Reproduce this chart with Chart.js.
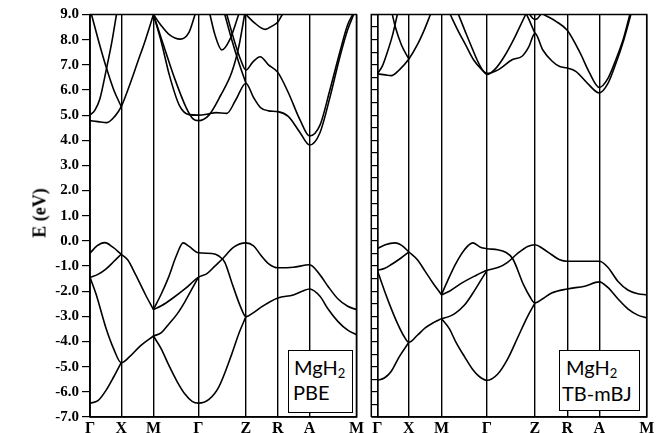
<!DOCTYPE html>
<html>
<head>
<meta charset="utf-8">
<script src="https://cdn.jsdelivr.net/npm/chart.js@4.4.1/dist/chart.umd.min.js"></script>
<style>
  html, body { margin: 0; padding: 0; background: #fff; }
  #wrap { position: relative; width: 666px; height: 433px; overflow: hidden; }
  canvas { position: absolute; top: 0; }
  #cPBE { left: 0; }
  #cMBJ { left: 366px; }
  .ylab { position: absolute; left: 40px; top: 213px; transform: translate(-50%, -50%) rotate(-90deg);
          font: bold 18px "Liberation Serif"; white-space: nowrap; }
  .tag { position: absolute; background: #fff; border: 1.5px solid #000; box-sizing: border-box;
         font-family: Lato; font-size: 20px; line-height: 20px; }
  .tag span { position: absolute; white-space: nowrap; }
  .tag sub { font-size: 13px; position: relative; top: 3px; vertical-align: baseline; }
</style>
</head>
<body>
<div id="wrap">
  <canvas id="cPBE" width="366" height="433"></canvas>
  <canvas id="cMBJ" width="300" height="433"></canvas>
  <div class="ylab">E (eV)</div>
  <div class="tag" style="left:288px; top:350px; width:65px; height:63px;">
    <span style="left:5px; top:6px;">MgH<sub>2</sub></span>
    <span style="left:4px; top:31px;">PBE</span>
  </div>
  <div class="tag" style="left:559px; top:350px; width:81px; height:61px;">
    <span style="left:6px; top:6px;">MgH<sub>2</sub></span>
    <span style="left:2px; top:32px;">TB-mBJ</span>
  </div>
</div>
<script>
// k-path: positions of the high-symmetry points and their labels
const kPath = [0, 31.5, 64, 109.3, 157.3, 189.5, 221.5, 268.8];
const kLabels = ['Γ', 'X', 'M', 'Γ', 'Z', 'R', 'A', 'M'];
const eMin = -7, eMax = 9;

// PBE bands, [k, E(eV)]
const pbeC1 = [[0,4.78],[8,4.74],[17,4.70],[25,4.95],[31.5,5.34],[40,6.2],[48,7.1],[56,8.0],[64,9.0]];
const pbeC2 = [[0,5.0],[5,5.2],[10,5.65],[16.7,6.86],[22,7.9],[26.7,9.0]];
const pbeC3 = [[1.5,9.0],[9,7.9],[16.7,6.86],[24,6.0],[31.5,5.34]];
const pbeC4 = [[64,9.0],[72,7.9],[80,6.6],[90,5.4],[100,5.02],[109.3,5.0],[120,5.05],[127,5.1],[138,5.07],[147,5.6],[157.3,6.27],[165,5.7],[172,5.3],[180,5.17],[189.5,5.14],[200,4.95],[212,4.3],[221.5,3.81],[232,4.3],[242,5.7],[252,7.3],[260,8.4],[266,9.0]];
const pbeC5 = [[64,9.0],[74,7.8],[85,6.5],[97,5.3],[104,4.85],[109.3,4.78],[120,5.0],[132,5.8],[143,6.7],[150,7.7],[156,9.0]];
const pbeC6 = [[64,9.0],[72,8.55],[80,8.2],[91,8.02],[100,8.3],[106,9.0]];
const pbeC7 = [[121,9.0],[126,8.2],[133,7.59],[141,8.0],[150,9.0]];
const pbeC8 = [[138,9.0],[146,7.9],[152,7.2],[157.3,6.79],[164,7.1],[171.7,7.32],[180,7.0],[189.5,6.7],[200,5.9],[212,4.8],[221.5,4.17],[232,4.6],[242,6.0],[252,7.5],[260,8.6],[265,9.0]];
const pbeC9 = [[136,9.0],[143,8.0],[150,7.1],[157.3,6.27]];
const pbeC10 = [[157.3,9.0],[165,8.7],[176.7,8.41],[184,8.55],[189.5,8.7],[194,9.0]];

const pbeV1 = [[0,-0.49],[7,-0.2],[15,-0.07],[23,-0.25],[31.5,-0.53],[38,-0.75],[46,-1.34],[56,-2.14],[64,-2.73]];
const pbeV2 = [[0,-1.45],[8,-1.33],[16,-1.12],[24,-0.82],[31.5,-0.53]];
const pbeV3 = [[0,-1.45],[6,-2.1],[16,-3.45],[24,-4.3],[31.5,-4.84],[40,-4.6],[50,-4.2],[64,-3.78]];
const pbeV4 = [[0,-6.45],[8,-6.35],[16,-5.95],[24,-5.4],[31.5,-4.84]];
const pbeV5 = [[64,-2.73],[72,-2.1],[79,-1.47],[87,-0.6],[94,-0.08],[100,-0.22],[109.3,-0.47],[123,-0.5],[130,-0.6],[136,-0.85],[143,-1.65],[151.7,-2.6],[157.3,-3.01],[165,-2.85],[172,-2.65],[189.5,-2.27],[205,-2.15],[214,-2.0],[221.5,-1.91],[232,-2.2],[240,-2.7],[250,-3.2],[260,-3.55],[268.8,-3.73]];
const pbeV6 = [[64,-2.73],[72,-2.58],[82,-2.32],[96,-1.9],[109.3,-1.45],[118,-1.3],[126,-1.0],[134,-0.7],[145,-0.25],[157.3,-0.08],[165,-0.2],[172,-0.55],[180,-0.9],[189.5,-1.07],[205,-1.05],[221.5,-0.95],[232,-1.35],[240,-1.8],[250,-2.3],[260,-2.6],[268.8,-2.73]];
const pbeV7 = [[64,-3.78],[72,-3.65],[79,-3.33],[88,-2.9],[96,-2.4],[103,-1.9],[109.3,-1.45]];
const pbeV8 = [[64,-3.78],[72,-4.3],[79,-4.9],[88,-5.6],[96,-6.1],[103,-6.38],[109.3,-6.45],[120,-6.3],[130,-5.8],[143,-4.5],[150,-3.7],[157.3,-3.01]];

// TB-mBJ bands, [k, E(eV)]
const mbjC1 = [[0,6.64],[8,6.6],[14,6.57],[22,6.8],[31.5,7.23],[40,7.8],[47,8.4],[53,9.0]];
const mbjC2 = [[0,6.64],[5,6.95],[10,7.5],[15,8.15],[20,9.0]];
const mbjC3 = [[15,9.0],[18,8.5],[24,7.8],[31.5,7.23]];
const mbjC4 = [[72.8,9.0],[80,8.4],[88,7.8],[96,7.2],[104.5,6.8],[109.5,6.66],[121,6.81],[134.5,7.2],[144.5,7.34],[151,7.7],[157.3,8.25],[165,7.6],[174.5,7.14],[182,6.93],[189.5,6.87],[198,6.74],[211,6.21],[221.5,5.88],[230,6.25],[238,7.05],[246,8.0],[253,9.0]];
const mbjC5 = [[81,9.0],[88,8.3],[94.5,7.67],[102,7.0],[109.5,6.62],[118,6.85],[127,7.35],[136,8.0],[142,8.5],[148,9.0]];
const mbjC6 = [[149,9.0],[153,8.65],[157.3,8.25]];
const mbjC7 = [[152,9.0],[155,8.85],[157.3,8.8],[160,8.85],[163,9.0]];
const mbjC8 = [[166,9.0],[179,8.71],[189.5,8.37],[202.5,7.46],[211,6.74],[221.5,6.1],[230,6.45],[238,7.2],[246,8.1],[252,9.0]];

const mbjV1 = [[0,-0.31],[8,-0.15],[17.8,-0.08],[25,-0.2],[31.5,-0.44],[40,-0.75],[47.8,-1.21],[56,-1.7],[64,-2.14]];
const mbjV2 = [[0,-1.17],[7,-1.1],[14,-0.94],[23,-0.7],[31.5,-0.44]];
const mbjV3 = [[0,-1.17],[7.3,-2.0],[14,-2.7],[20.7,-3.33],[26,-3.75],[31.5,-4.03],[40,-3.75],[47.8,-3.46],[56,-3.25],[64,-3.09]];
const mbjV4 = [[0,-5.54],[7,-5.45],[14,-5.18],[22,-4.6],[31.5,-4.03]];
const mbjV5 = [[64,-2.14],[70,-1.6],[77.8,-0.94],[87,-0.35],[95.2,-0.08],[102.8,-0.25],[109.5,-0.31],[120,-0.35],[128,-0.45],[135,-0.7],[146,-1.75],[152,-2.2],[157.3,-2.47],[165,-2.3],[174,-2.07],[189.5,-1.91],[207,-1.8],[221.5,-1.63],[230,-1.85],[240,-2.3],[250,-2.7],[260,-2.95],[268.8,-3.06]];
const mbjV6 = [[64,-2.14],[72,-2.0],[84.5,-1.67],[97,-1.4],[109.5,-1.17],[121,-1.05],[130,-0.85],[140,-0.5],[150,-0.22],[157.3,-0.15],[165,-0.3],[174,-0.55],[182,-0.75],[189.5,-0.81],[205,-0.81],[221.5,-0.81],[230,-1.05],[240,-1.6],[250,-1.95],[260,-2.1],[268.8,-2.14]];
const mbjV7 = [[64,-3.09],[72,-3.0],[78,-2.87],[87,-2.55],[95,-2.1],[102,-1.65],[109.5,-1.17]];
const mbjV8 = [[64,-3.09],[72,-3.5],[78,-3.99],[87,-4.6],[95,-5.1],[102,-5.4],[109.5,-5.54],[120,-5.3],[130,-4.7],[140,-3.85],[150,-3.0],[157.3,-2.47]];

const pbeBands = [pbeC1, pbeC2, pbeC3, pbeC4, pbeC5, pbeC6, pbeC7, pbeC8, pbeC9, pbeC10,
                  pbeV1, pbeV2, pbeV3, pbeV4, pbeV5, pbeV6, pbeV7, pbeV8];
const mbjBands = [mbjC1, mbjC2, mbjC3, mbjC4, mbjC5, mbjC6, mbjC7, mbjC8,
                  mbjV1, mbjV2, mbjV3, mbjV4, mbjV5, mbjV6, mbjV7, mbjV8];

// box round the plot area; "outer" adds the extra edge line left of the y ticks
const frame = {
  id: 'frame',
  afterDraw(chart, args, opts) {
    const { ctx, chartArea: a } = chart;
    const left = a.left - (opts.outer || 0);
    ctx.save();
    ctx.strokeStyle = '#000';
    ctx.lineWidth = 1.5;
    ctx.beginPath();
    ctx.moveTo(left, a.bottom);
    ctx.lineTo(left, a.top);
    ctx.lineTo(a.right, a.top);
    ctx.lineTo(a.right, a.bottom);
    ctx.lineTo(left, a.bottom);
    ctx.stroke();
    ctx.restore();
  }
};

function makePanel(id, bands, axisW, padRight, showLabels, tickLen) {
  return new Chart(document.getElementById(id), {
    type: 'line',
    data: {
      datasets: bands.map(b => ({
        data: b.map(([x, y]) => ({ x, y })),
        borderColor: '#000',
        borderWidth: 1.6,
        pointRadius: 0,
        fill: false,
        cubicInterpolationMode: 'monotone'
      }))
    },
    options: {
      responsive: false,
      animation: false,
      events: [],
      layout: { padding: { top: 14.5, right: padRight, left: 0, bottom: 0 } },
      plugins: {
        legend: { display: false },
        tooltip: { enabled: false },
        frame: { outer: showLabels ? 0 : tickLen }
      },
      scales: {
        x: {
          type: 'linear',
          min: 0,
          max: kPath[kPath.length - 1],
          afterBuildTicks: s => { s.ticks = kPath.map(v => ({ value: v })); },
          afterFit: s => { s.height = 16; },
          grid: { color: '#000', lineWidth: 1.4, drawTicks: false },
          border: { color: '#000', width: 1.5 },
          ticks: {
            autoSkip: false, maxRotation: 0, padding: 2, color: '#000',
            font: { family: 'Liberation Serif', size: 16, weight: 'bold' },
            callback: (v, i) => kLabels[i]
          }
        },
        y: {
          min: eMin,
          max: eMax,
          afterFit: s => { s.width = axisW; },
          grid: { drawOnChartArea: false, drawTicks: true, tickLength: tickLen, color: '#000', lineWidth: 1.2 },
          border: { color: '#000', width: 1.5 },
          ticks: {
            display: showLabels, stepSize: 0.5, maxTicksLimit: 40, padding: 3, color: '#000',
            font: { family: 'Liberation Serif', size: 15, weight: 'bold' },
            callback: v => Number.isInteger(v) ? v.toFixed(1) : ''
          }
        }
      }
    },
    plugins: [frame]
  });
}

makePanel('cPBE', pbeBands, 90, 7.7, true, 8);
makePanel('cMBJ', mbjBands, 11.3, 19.3, false, 6);
</script>
</body>
</html>
